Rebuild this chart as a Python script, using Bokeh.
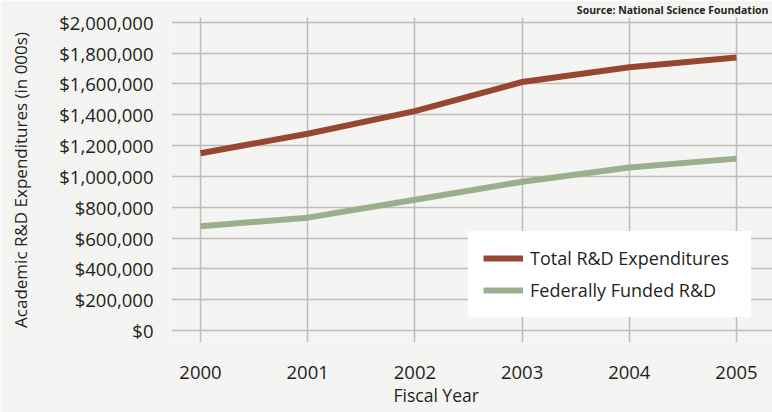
from bokeh.plotting import figure
from bokeh.models import (Range1d, FixedTicker, NumeralTickFormatter, Legend, LegendItem, Title)
from bokeh.embed import file_html
from bokeh.resources import INLINE

years = [2000, 2001, 2002, 2003, 2004, 2005]
total_rd = [1150000, 1276000, 1423000, 1612000, 1708000, 1771000]
federal_rd = [677000, 732000, 848000, 965000, 1057000, 1115000]
y_ticks = [0, 200000, 400000, 600000, 800000, 1000000, 1200000, 1400000, 1600000, 1800000, 2000000]
series_names = ["Total R&D Expenditures", "Federally Funded R&D"]
x_title = "Fiscal Year"
y_title = "Academic R&D Expenditures (in 000s)"
source_text = "Source: National Science Foundation"

FONT = "Open Sans"
TXT = "#231f20"
BG = "#f4f4f2"

p = figure(width=772, height=412, output_backend="svg", toolbar_location=None,
           x_range=Range1d(1999.7295, 2005.3358), y_range=Range1d(-77846, 2030490),
           min_border_left=171, min_border_right=0, min_border_top=17, min_border_bottom=70,
           background_fill_color=BG, border_fill_color=BG, outline_line_color=None)

p.xaxis.ticker = FixedTicker(ticks=years)
p.yaxis.ticker = FixedTicker(ticks=y_ticks)
p.yaxis.formatter = NumeralTickFormatter(format="$0,0")
for ax in (p.xaxis[0], p.yaxis[0]):
    ax.axis_line_color = None
    ax.major_tick_line_color = None
    ax.minor_tick_line_color = None
    ax.major_label_text_font = FONT
    ax.major_label_text_font_size = "18.5px"
    ax.major_label_text_color = TXT
p.xaxis.major_label_standoff = 17
p.yaxis.major_label_standoff = 12

p.yaxis.axis_label = y_title
p.yaxis.axis_label_text_font = FONT
p.yaxis.axis_label_text_font_size = "17px"
p.yaxis.axis_label_text_font_style = "normal"
p.yaxis.axis_label_text_color = TXT
p.yaxis.axis_label_standoff = 24

p.xgrid.ticker = FixedTicker(ticks=years)
p.ygrid.ticker = FixedTicker(ticks=y_ticks)
for g in (p.xgrid[0], p.ygrid[0]):
    g.grid_line_color = "#bdbdbd"
    g.grid_line_width = 1.5

r1 = p.line(years, total_rd, line_color="#984632", line_width=6)
r2 = p.line(years, federal_rd, line_color="#9caf8c", line_width=6)

legend = Legend(items=[LegendItem(label=series_names[0], renderers=[r1]),
                       LegendItem(label=series_names[1], renderers=[r2])],
                location=(297, 25), padding=15, margin=0, spacing=8,
                glyph_width=40, glyph_height=20, label_height=20, label_width=206,
                label_standoff=7, background_fill_color="#ffffff", background_fill_alpha=1,
                border_line_alpha=0, label_text_font=FONT, label_text_font_size="18px",
                label_text_color=TXT)
p.add_layout(legend, "center")

p.add_layout(Title(text=x_title, align="left", offset=222, standoff=0, vertical_align="middle",
                   text_font=FONT, text_font_size="17.5px", text_font_style="normal",
                   text_color=TXT), "below")
p.add_layout(Title(text=source_text, align="right", offset=4, standoff=0, vertical_align="middle",
                   text_font=FONT, text_font_size="10.5px", text_font_style="bold",
                   text_color=TXT), "above")

open("out.html", "w").write(file_html(p, INLINE))
